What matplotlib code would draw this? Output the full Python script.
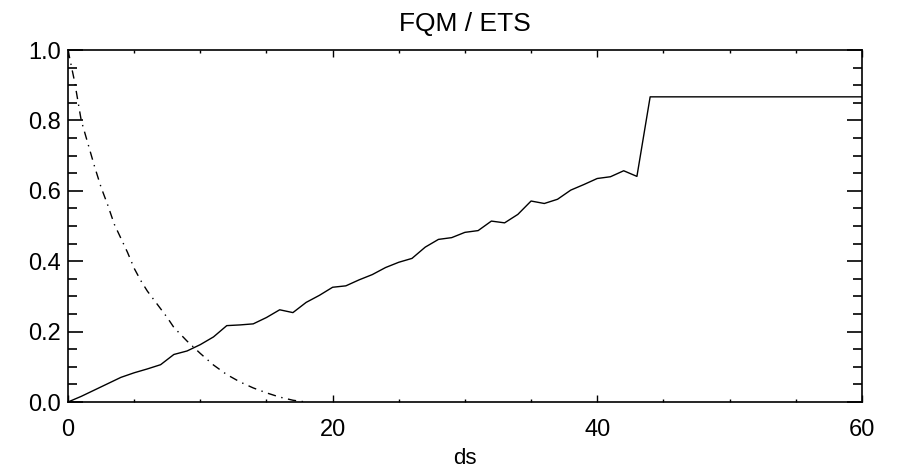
import matplotlib
matplotlib.use("Agg")
import matplotlib.pyplot as plt
from matplotlib.ticker import MultipleLocator

plt.rcParams['font.family'] = ['Liberation Sans', 'DejaVu Sans']

# FQM curve (solid)
fqm_x = [0, 1, 2, 3, 4, 5, 6, 7, 8, 9, 10, 11, 12, 13, 14, 15, 16, 17, 18, 19,
         20, 21, 22, 23, 24, 25, 26, 27, 28, 29, 30, 31, 32, 33, 34, 35, 36, 37,
         38, 39, 40, 41, 42, 43, 44, 60]
fqm_y = [0.0, 0.016, 0.034, 0.052, 0.07, 0.083, 0.094, 0.106, 0.135, 0.145,
         0.163, 0.185, 0.217, 0.219, 0.222, 0.24, 0.262, 0.254, 0.283, 0.303,
         0.326, 0.33, 0.347, 0.362, 0.382, 0.397, 0.408, 0.44, 0.462, 0.467,
         0.482, 0.487, 0.514, 0.509, 0.533, 0.571, 0.564, 0.576, 0.602, 0.618,
         0.635, 0.64, 0.657, 0.641, 0.867, 0.867]

# ETS curve (dash-dot)
ets_x = [0, 0.5, 1, 1.5, 2, 2.5, 3, 3.5, 4, 4.5, 5, 5.5, 6, 6.5, 7, 7.5, 8,
         9, 10, 11, 12, 13, 14, 15, 16, 17, 18]
ets_y = [1.0, 0.91, 0.80, 0.735, 0.67, 0.61, 0.56, 0.505, 0.465, 0.425, 0.38,
         0.345, 0.315, 0.29, 0.265, 0.24, 0.212, 0.173, 0.138, 0.105, 0.078,
         0.057, 0.04, 0.026, 0.014, 0.005, 0.0]

fig = plt.figure(figsize=(8.97, 4.72), dpi=100)
ax = fig.add_axes([0.0758, 0.1483, 0.885, 0.7457])

ax.plot(fqm_x, fqm_y, color='black', lw=1.0)
ax.plot(ets_x, ets_y, color='black', lw=1.0, linestyle=(0, (6, 4, 1, 4)))

ax.set_xlim(0, 60)
ax.set_ylim(0, 1.0)
ax.xaxis.set_major_locator(MultipleLocator(20))
ax.xaxis.set_minor_locator(MultipleLocator(5))
ax.yaxis.set_major_locator(MultipleLocator(0.2))
ax.yaxis.set_minor_locator(MultipleLocator(0.05))
ax.yaxis.set_major_formatter(plt.FormatStrFormatter('%.1f'))

ax.tick_params(axis='x', which='major', direction='in', length=5, width=1,
               top=True, labelsize=17, pad=12)
ax.tick_params(axis='x', which='minor', direction='in', length=2.5, width=1, top=True)
ax.tick_params(axis='y', which='major', direction='in', length=11, width=1.2,
               right=True, labelsize=17, pad=5)
ax.tick_params(axis='y', which='minor', direction='in', length=6.5, width=1.2, right=True)

for s in ax.spines.values():
    s.set_linewidth(1.2)

ax.set_title("FQM / ETS", fontsize=19, pad=14)
ax.set_xlabel("ds", fontsize=16, labelpad=5)

fig.savefig("out.png", dpi=100)
